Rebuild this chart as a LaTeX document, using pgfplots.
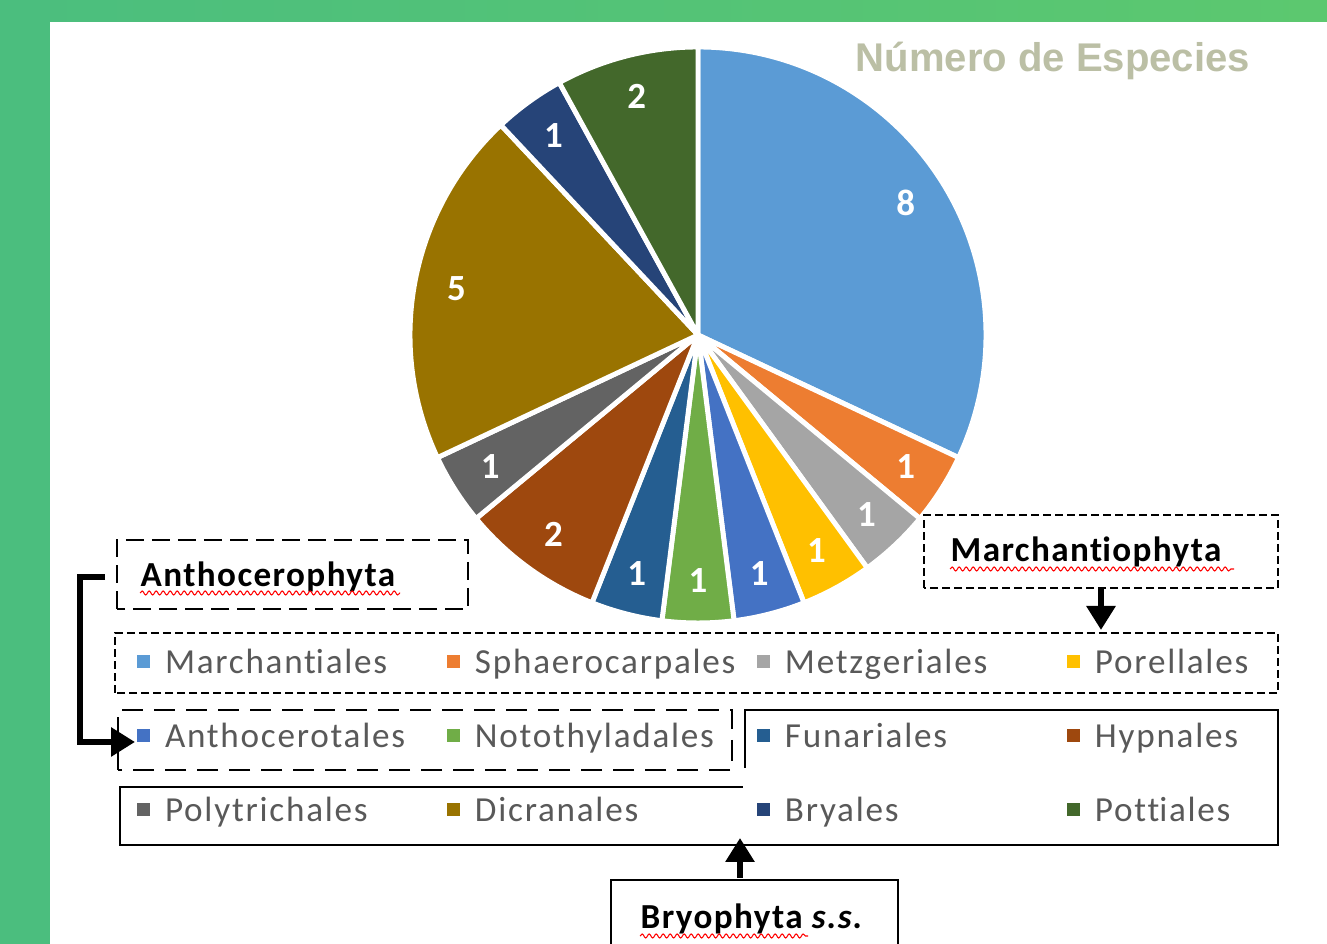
\documentclass[border=0pt]{standalone}
\usepackage{pgfplots}
\pgfplotsset{compat=1.18}
\usepackage{pgfplotstable}
\usepackage{fontspec}
\setmainfont{Carlito}[Ligatures={NoCommon,NoContextual},Contextuals=NoAlternate,RawFeature={-liga;-clig;-calt}]
\newfontfamily\arialfont{Liberation Sans}
\usetikzlibrary{arrows.meta,decorations.pathmorphing}

\definecolor{c1}{HTML}{5B9BD5}
\definecolor{c2}{HTML}{ED7D31}
\definecolor{c3}{HTML}{A5A5A5}
\definecolor{c4}{HTML}{FFC000}
\definecolor{c5}{HTML}{4472C4}
\definecolor{c6}{HTML}{70AD47}
\definecolor{c7}{HTML}{255E91}
\definecolor{c8}{HTML}{9E480E}
\definecolor{c9}{HTML}{636363}
\definecolor{c10}{HTML}{997300}
\definecolor{c11}{HTML}{264478}
\definecolor{c12}{HTML}{43682B}
\definecolor{frameA}{HTML}{4BBE7E}
\definecolor{frameB}{HTML}{5CC86F}
\definecolor{titlec}{HTML}{BBBFA5}
\definecolor{legtext}{HTML}{595959}

\newcommand\legfont{\fontsize{10pt}{12pt}\selectfont\addfontfeatures{LetterSpace=5}}
\newcommand\annfont{\fontsize{10pt}{12pt}\selectfont\bfseries\addfontfeatures{LetterSpace=4}}
\newcommand\pielab{\fontsize{10.5pt}{12pt}\selectfont\bfseries}
% keep t and i apart
\newcommand\ti{t\kern0pt i}

% order: clockwise from 12 o'clock
\pgfplotstableread{
name value color
Marchantiales 8 c1
Sphaerocarpales 1 c2
Metzgeriales 1 c3
Porellales 1 c4
Anthocerotales 1 c5
Notothyladales 1 c6
Funariales 1 c7
Hypnales 2 c8
Polytrichales 1 c9
Dicranales 5 c10
Bryales 1 c11
Pottiales 2 c12
}\piedata

\begin{document}
\begin{tikzpicture}
\begin{axis}[width=13.27cm,height=9.44cm,scale only axis,
  xmin=0,xmax=1327,ymin=0,ymax=944,axis lines=none,ticks=none,
  legend columns=4,
  legend image code/.code={\fill[#1,draw=none] (0cm,0.06cm) rectangle (0.13cm,0.19cm);
    \path[fill=none,draw=none] (0cm,0cm) rectangle (0.28cm,0.1cm);},
  legend style={at={(axis cs:137,316)},anchor=north west,draw=none,fill=none,
    inner sep=0pt,outer sep=0pt,column sep=0pt,row sep=0pt,
    font=\legfont,text=legtext,cells={anchor=base west},
    nodes={inner sep=0pt,text height=4.6mm,text depth=2.8mm}}]

% frame and panel
\fill[frameA] (axis cs:0,0) rectangle (axis cs:1327,944);
\shade[left color=frameA,right color=frameB] (axis cs:0,922) rectangle (axis cs:1327,944);
\fill[frameA] (axis cs:0,0) rectangle (axis cs:50,944);
\fill[white] (axis cs:50,0) rectangle (axis cs:1327,922);

% pie slices from the table
\def\total{0}
\pgfplotsforeachungrouped \i in {0,...,11}{%
  \pgfplotstablegetelem{\i}{value}\of\piedata
  \pgfmathsetmacro\total{\total+\pgfplotsretval}}
\def\cum{0}
\pgfplotsforeachungrouped \i in {0,...,11}{%
  \pgfplotstablegetelem{\i}{value}\of\piedata \let\v\pgfplotsretval
  \pgfplotstablegetelem{\i}{color}\of\piedata \let\c\pgfplotsretval
  \pgfmathsetmacro\sa{90-\cum*360/\total}
  \pgfmathsetmacro\ea{\sa-\v*360/\total}
  \pgfmathsetmacro\ma{(\sa+\ea)/2}
  \pgfmathsetmacro\cum{\cum+\v}
  \edef\temp{\noexpand\fill[\c,draw=white,line width=1.4pt,line join=round]
    (axis cs:698,609) -- ([shift={(\sa:28.8mm)}]axis cs:698,609)
    arc[start angle=\sa,end angle=\ea,radius=28.8mm] -- cycle;
    \noexpand\node[font=\noexpand\pielab,text=white]
    at ([shift={(\ma:24.6mm)}]axis cs:698,609) {\v};}
  \temp
}

% title
\node[anchor=base west,inner sep=0pt,text=titlec,font=\arialfont\bfseries\fontsize{11.4pt}{13pt}\selectfont]
  at (axis cs:855,872) {Número de Especies};

% Anthocerophyta
\draw[line width=0.7pt,dash pattern=on 1.8mm off 0.8mm] (axis cs:117,335) rectangle (axis cs:468,404);
\node[anchor=base west,inner sep=0pt,font=\annfont] at (axis cs:140,357) {Anthocerophyta};
\draw[red,line width=0.3pt,decorate,decoration={snake,amplitude=0.2mm,segment length=0.7mm}] (axis cs:140,351) -- (axis cs:400,351);
\draw[line width=1.8pt,-{Triangle[length=2.4mm,width=2.8mm]}] (axis cs:105,367) -- (axis cs:80,367) -- (axis cs:80,202) -- (axis cs:135,202);
\draw[line width=0.7pt,dash pattern=on 2.1mm off 1.1mm] (axis cs:118,174) rectangle (axis cs:732,234);

% Marchantiophyta
\draw[line width=0.7pt,dash pattern=on 0.8mm off 0.4mm] (axis cs:924,356) rectangle (axis cs:1278,429);
\node[anchor=base west,inner sep=0pt,font=\annfont] at (axis cs:950,382) {Marchan\ti ophyta};
\draw[red,line width=0.3pt,decorate,decoration={snake,amplitude=0.2mm,segment length=0.7mm}] (axis cs:950,375) -- (axis cs:1234,375);
\draw[line width=1.8pt,-{Triangle[length=2.4mm,width=2.8mm]}] (axis cs:1101,356) -- (axis cs:1101,314);
\draw[line width=0.7pt,dash pattern=on 0.8mm off 0.4mm] (axis cs:115,251) rectangle (axis cs:1278,311);

% Bryophyta s.s.
\draw[line width=0.8pt] (axis cs:745,176) -- (axis cs:745,234) -- (axis cs:1278,234) -- (axis cs:1278,99)
  -- (axis cs:120,99) -- (axis cs:120,157) -- (axis cs:743,157);
\draw[line width=1.8pt,-{Triangle[length=2.4mm,width=2.8mm]}] (axis cs:740,66) -- (axis cs:740,106);
\draw[line width=0.8pt] (axis cs:611,-5) -- (axis cs:611,64) -- (axis cs:898,64) -- (axis cs:898,-5);
\node[anchor=base west,inner sep=0pt,font=\annfont] at (axis cs:640,15) {Bryophyta \textit{s.s.}};
\draw[red,line width=0.3pt,decorate,decoration={snake,amplitude=0.2mm,segment length=0.7mm}] (axis cs:640,8) -- (axis cs:808,8);

% legend
\addlegendimage{fill=c1}\addlegendentry{\makebox[2.82cm][l]{Marchan\ti ales}}
\addlegendimage{fill=c2}\addlegendentry{\makebox[2.82cm][l]{Sphaerocarpales}}
\addlegendimage{fill=c3}\addlegendentry{\makebox[2.82cm][l]{Metzgeriales}}
\addlegendimage{fill=c4}\addlegendentry{Porellales}
\addlegendimage{fill=c5}\addlegendentry{\makebox[2.82cm][l]{Anthocerotales}}
\addlegendimage{fill=c6}\addlegendentry{\makebox[2.82cm][l]{Notothyladales}}
\addlegendimage{fill=c7}\addlegendentry{\makebox[2.82cm][l]{Funariales}}
\addlegendimage{fill=c8}\addlegendentry{Hypnales}
\addlegendimage{fill=c9}\addlegendentry{\makebox[2.82cm][l]{Polytrichales}}
\addlegendimage{fill=c10}\addlegendentry{\makebox[2.82cm][l]{Dicranales}}
\addlegendimage{fill=c11}\addlegendentry{\makebox[2.82cm][l]{Bryales}}
\addlegendimage{fill=c12}\addlegendentry{Pot\ti ales}
\end{axis}
\end{tikzpicture}
\end{document}
